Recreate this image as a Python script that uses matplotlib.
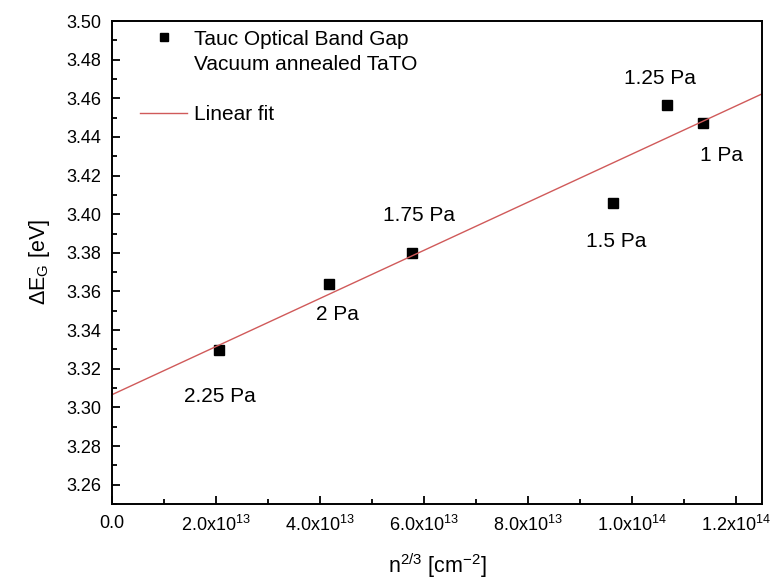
import numpy as np
import matplotlib
matplotlib.use("Agg")
import matplotlib.pyplot as plt
from matplotlib.lines import Line2D
from matplotlib.ticker import MultipleLocator, FuncFormatter

plt.rcParams['font.family'] = ['Liberation Sans', 'DejaVu Sans']
plt.rcParams['mathtext.default'] = 'regular'

# n^(2/3) [cm^-2] and band gap shift [eV]
pressure_labels = ["2.25 Pa", "2 Pa", "1.75 Pa", "1.5 Pa", "1.25 Pa", "1 Pa"]
n23 = [2.06e13, 4.18e13, 5.76e13, 9.64e13, 1.067e14, 1.137e14]
delta_eg = [3.3297, 3.3639, 3.3801, 3.4060, 3.4565, 3.4474]
# label offsets in pixels (dx, dy) relative to each point
label_offsets = [(1, -46), (8, -31), (7, 37), (3, -39), (-7, 27), (18, -33)]


def xfmt(v, pos):
    if abs(v) < 1:
        return "0.0"
    if v < 0:
        return ""
    e = int(np.floor(np.log10(v)))
    m = v / 10 ** e
    return "%.1fx10$^{%d}$" % (m, e)


fig = plt.figure(figsize=(7.73, 5.79), dpi=100)
ax = fig.add_axes([0.1449, 0.1295, 0.8409, 0.8342])

slope, icpt = np.polyfit(n23, delta_eg, 1)
xfit = np.array([0, 1.25e14])

pts, = ax.plot(n23, delta_eg, 's', color='black', markersize=7)
fit, = ax.plot(xfit, slope * xfit + icpt, '-', color='#d05a5a', linewidth=1.0)

for lab, x, y, off in zip(pressure_labels, n23, delta_eg, label_offsets):
    ax.annotate(lab, (x, y), xytext=off, textcoords='offset pixels',
                ha='center', va='center', fontsize=15)

ax.set_xlim(0, 1.25e14)
ax.set_ylim(3.25, 3.50)
ax.xaxis.set_major_locator(MultipleLocator(2e13))
ax.xaxis.set_minor_locator(MultipleLocator(1e13))
ax.yaxis.set_major_locator(MultipleLocator(0.02))
ax.yaxis.set_minor_locator(MultipleLocator(0.01))
ax.xaxis.set_major_formatter(FuncFormatter(xfmt))
ax.yaxis.set_major_formatter(FuncFormatter(lambda v, p: "%.2f" % v))

ax.tick_params(which='both', direction='in', labelsize=13, width=1.3)
ax.tick_params(which='major', length=6, pad=8)
ax.tick_params(which='minor', length=3.5)
for s in ax.spines.values():
    s.set_linewidth(1.4)

ax.set_xlabel("n$^{2/3}$ [cm$^{-2}$]", fontsize=15.5, labelpad=12)
ax.set_ylabel("$\\Delta$E$_{G}$ [eV]", fontsize=15.5, labelpad=10)

blank = Line2D([], [], linestyle='none')
ax.legend([pts, blank, blank, fit],
          ["Tauc Optical Band Gap", "Vacuum annealed TaTO", " ", "Linear fit"],
          loc='upper left', frameon=False, fontsize=15,
          bbox_to_anchor=(0.043, 0.982), borderpad=0, borderaxespad=0,
          handlelength=2.26, handletextpad=0.35, labelspacing=0.3,
          markerscale=0.9)

fig.savefig("out.png", dpi=100)
